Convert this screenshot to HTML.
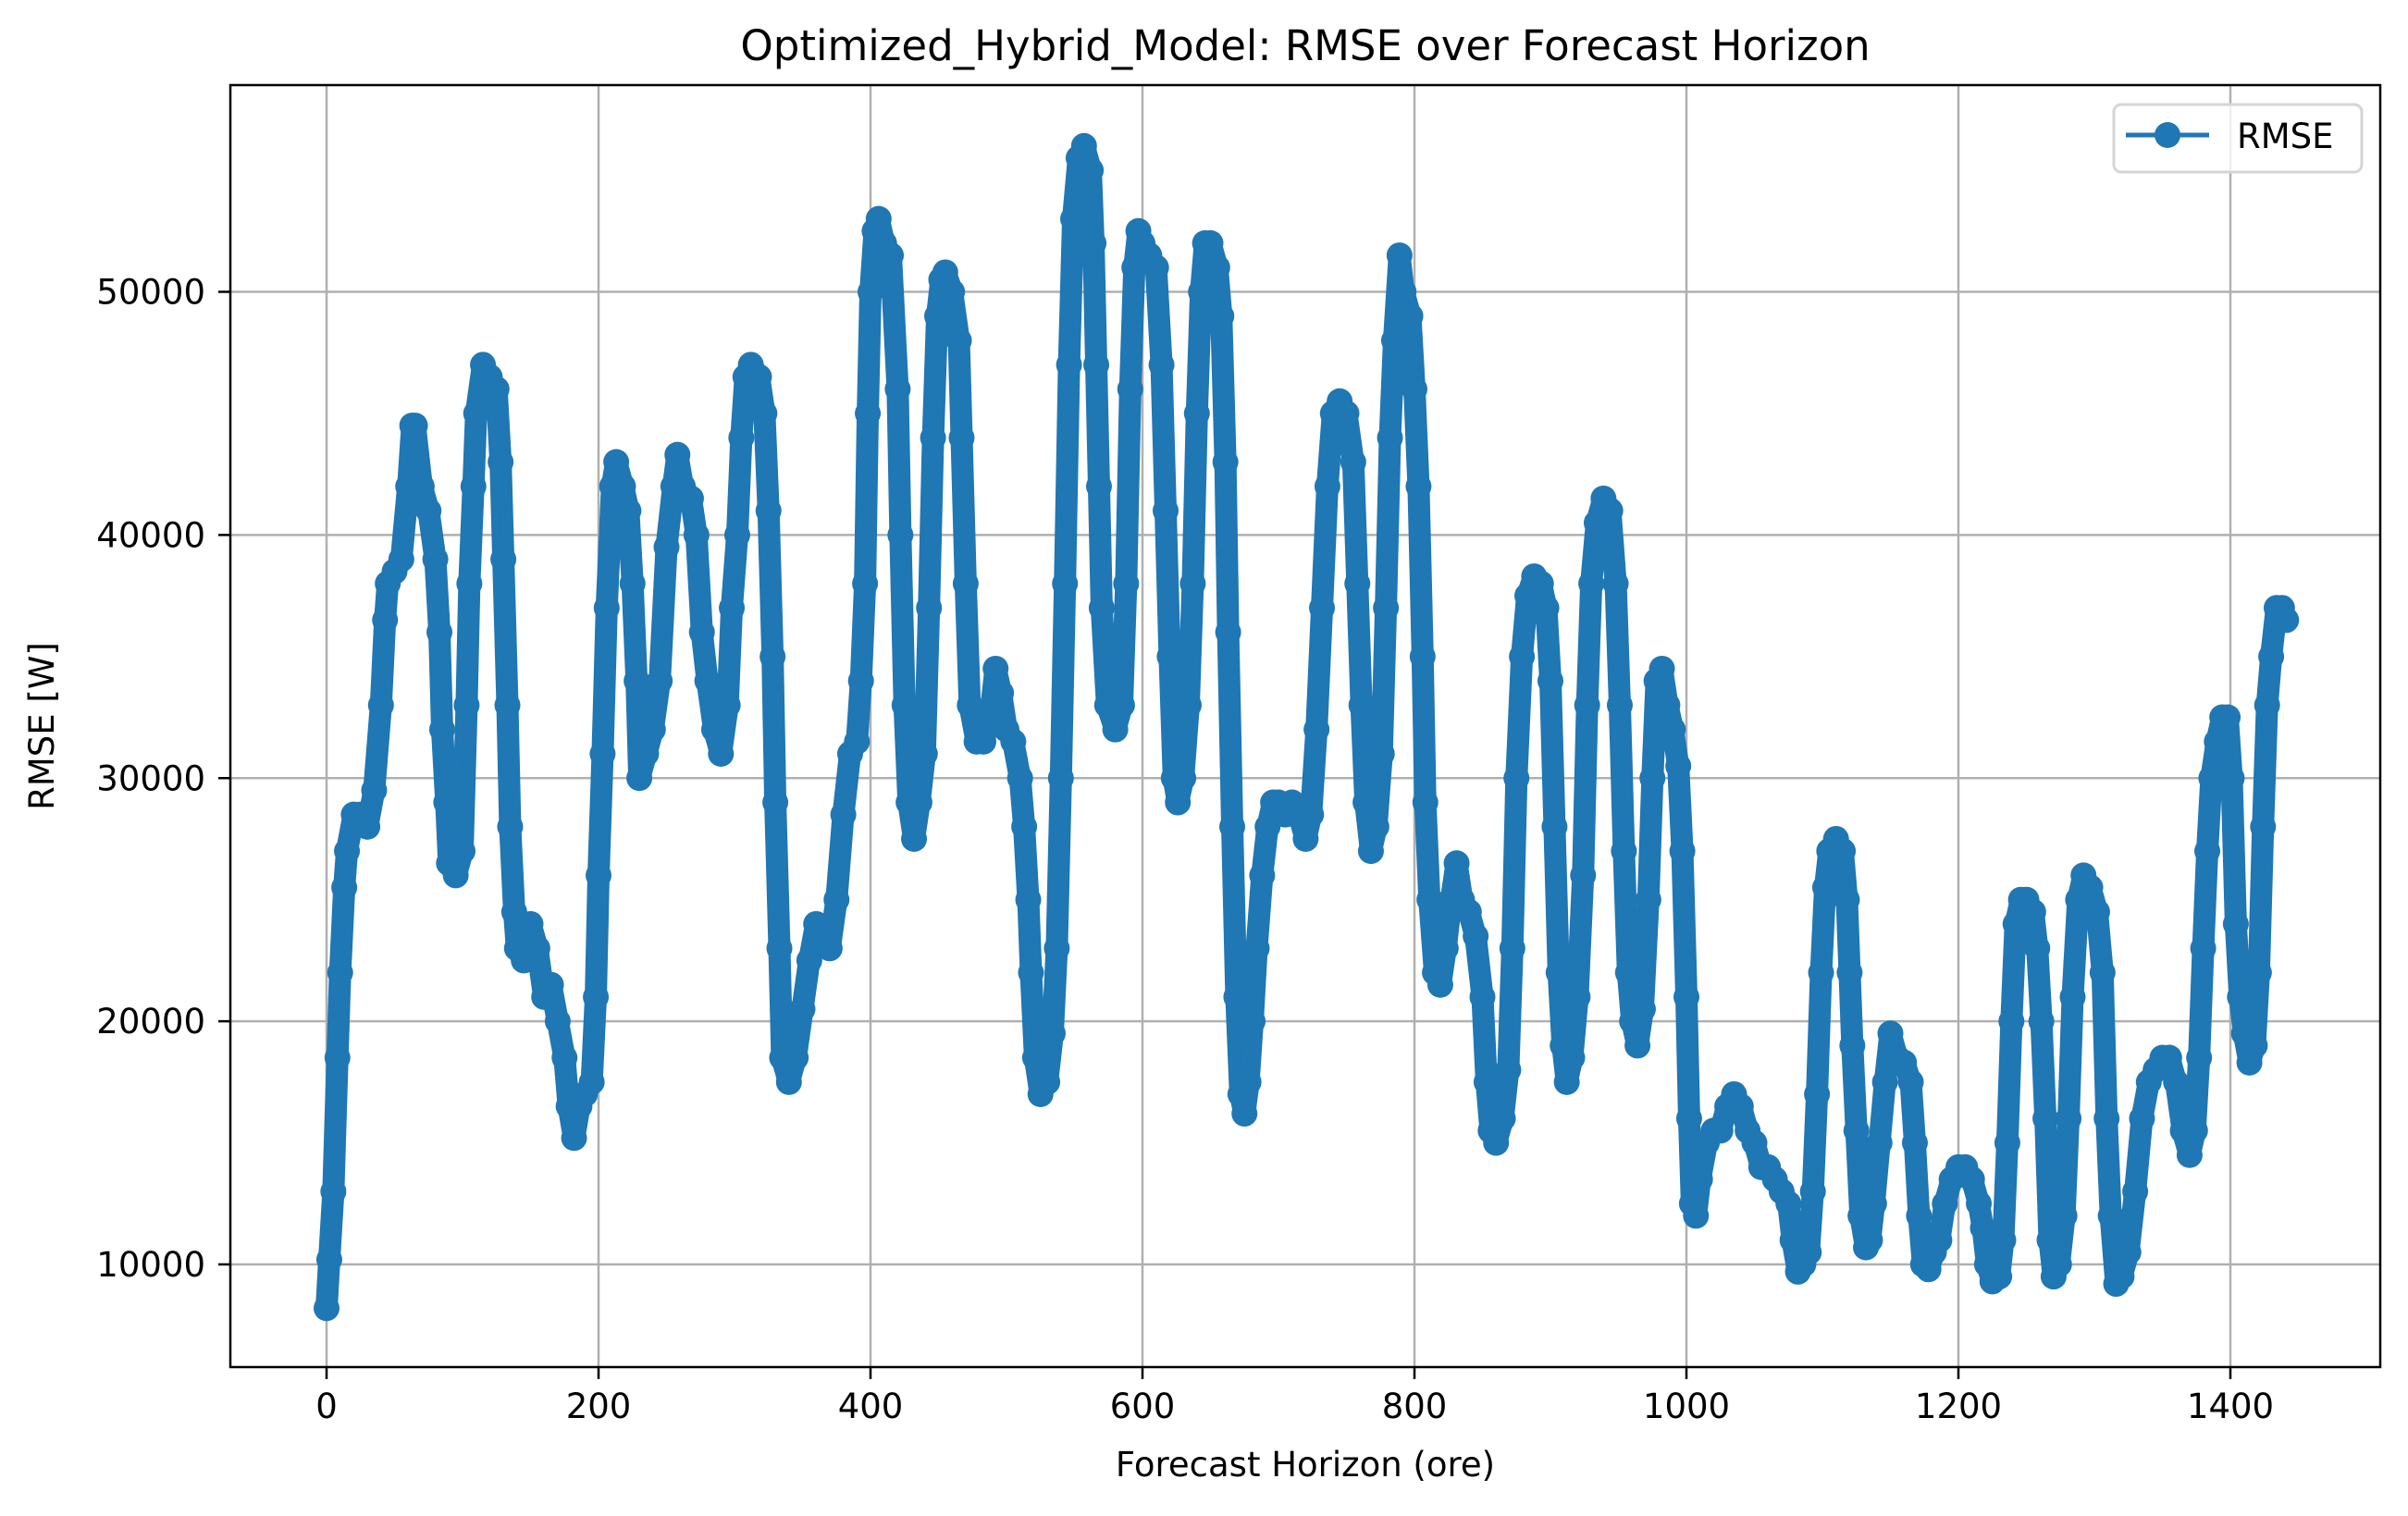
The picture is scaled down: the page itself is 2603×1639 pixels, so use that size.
<!DOCTYPE html>
<html><head><meta charset="utf-8"><style>
body{margin:0;background:#fff}
svg text{font-family:"DejaVu Sans","Liberation Sans",sans-serif;fill:#000}
</style></head><body>
<svg id="chart" width="2603" height="1634" xmlns="http://www.w3.org/2000/svg">
<rect width="2603" height="1634" fill="#fff"/>
<g id="grid"></g>
<g id="series"></g>
<rect x="249" y="92" width="2324" height="1386" fill="none" stroke="#000" stroke-width="2.5"/>
<g id="ticks"></g>
<text x="1411" y="65" font-size="45" text-anchor="middle">Optimized_Hybrid_Model: RMSE over Forecast Horizon</text>
<text x="1411" y="1596" font-size="37" text-anchor="middle">Forecast Horizon (ore)</text>
<text x="0" y="0" font-size="37" text-anchor="middle" transform="translate(58,785) rotate(-90)">RMSE [W]</text>
<g>
<rect x="2285" y="113" width="268" height="73" rx="8" fill="#fff" fill-opacity="0.8" stroke="#d5d5d5" stroke-width="3"/>
<line x1="2298" y1="146" x2="2388" y2="146" stroke="#1f77b4" stroke-width="5"/>
<circle cx="2343" cy="146" r="14" fill="#1f77b4"/>
<text x="2418" y="160" font-size="37">RMSE</text>
</g>
</svg>
<script>
const xs=[0,2,5,8,10,13,15,20,25,30,35,40,43,45,50,55,60,63,65,70,75,80,83,85,88,90,95,100,103,105,108,110,115,120,125,128,130,133,135,138,140,145,150,155,160,165,170,175,178,182,186,190,195,198,200,203,206,210,213,218,222,225,228,230,235,240,245,250,255,258,262,268,272,276,280,285,290,295,298,302,305,308,312,318,322,325,328,330,333,335,340,345,350,355,360,365,370,375,380,385,390,393,396,398,400,403,406,410,415,420,422,425,428,432,436,440,443,446,449,452,455,460,465,467,470,473,478,483,488,492,496,500,505,510,513,516,518,521,525,530,534,537,540,543,546,549,553,557,562,564,566,568,570,574,580,585,588,591,594,597,600,605,610,614,617,620,623,626,630,634,637,640,643,646,650,655,658,661,663,666,669,672,675,678,681,684,688,692,696,700,705,710,715,720,724,728,732,736,740,745,750,755,758,761,764,768,772,776,779,782,785,789,792,797,800,803,806,808,811,815,819,823,827,831,835,840,845,850,853,856,860,865,869,872,875,879,883,888,893,897,900,903,906,909,912,916,920,924,927,930,934,939,944,948,951,954,957,960,964,968,972,975,978,982,986,990,994,997,1000,1002,1004,1007,1010,1015,1020,1025,1030,1035,1040,1045,1050,1055,1060,1065,1070,1075,1078,1082,1086,1090,1093,1096,1099,1102,1105,1110,1115,1118,1120,1122,1125,1128,1132,1135,1138,1142,1146,1150,1155,1160,1165,1168,1171,1174,1178,1182,1186,1190,1195,1200,1205,1210,1215,1218,1221,1225,1230,1233,1236,1239,1242,1246,1250,1255,1258,1261,1264,1267,1270,1274,1278,1281,1284,1288,1292,1297,1302,1306,1309,1312,1316,1320,1325,1330,1335,1340,1345,1350,1355,1360,1365,1370,1374,1377,1380,1383,1386,1390,1394,1398,1401,1404,1407,1410,1414,1418,1421,1424,1427,1430,1434,1438,1441];
const rmseK=[8.2,10.2,13,18.5,22,25.5,27,28.5,28.5,28,29.5,33,36.5,38,38.5,39,42,44.5,44.5,42,41,39,36,32,29,26.5,26,27,33,38,42,45,47,46.5,46,43,39,33,28,24.5,23,22.5,24,23,21,21.5,20,18.5,16.5,15.2,16.5,17,17.5,21,26,31,37,42,43,42,41,38,34,30,31,32,34,39.5,42,43.3,42,41.5,40,36,34,32,31,33,37,40,44,46.5,47,46.5,45,41,35,29,23,18.5,17.5,18.5,20.5,22.5,24,23.5,23,25,28.5,31,31.5,34,38,45,50,52.5,53,52,51.5,46,40,33,29,27.5,29,31,37,44,49,50.5,50.8,50,48,44,38,33,31.5,31.5,32.5,34.5,33.5,32,31.5,30,28,25,22,18.5,17,17.5,19.5,23,30,38,47,53,55.5,56,55,52,47,42,37,33,32,33,38,46,51,52.5,52,51.5,51,47,41,35,30,29,30,33,38,45,50,52,52,51,49,43,36,28,21,17,16.2,17.5,20,23,26,28,29,29,28.5,29,28.5,27.5,28.5,32,37,42,45,45.5,45,43,38,33,29,27,28,31,37,44,48,51.5,50,49,46,42,35,29,25,22,21.5,23,25,26.5,25,24.5,23.5,21,17.5,15.5,15,16,18,23,30,35,37.5,38.3,38,37,34,28,22,19,17.5,18.5,21,26,33,38,40.5,41.5,41,38,33,27,22,20,19,20.5,25,30,34,34.5,33,32,30.5,27,21,16,12.5,12,13.5,15,15.5,15.5,16.5,17,16.5,15.5,15,14,14,13.5,13,12.5,11,9.7,10,10.5,13,17,22,25.5,27,27.5,27,25,22,19,15.5,12,10.7,11,12.5,15,17.5,19.5,18.5,18.3,17.5,15,12,10,9.8,10.5,11,12.5,13.5,14,14,13.5,12.5,11.5,10,9.3,9.5,11,15,20,24,25,25,24.5,23,20,16,11,9.5,10,12,16,21,25,26,25.5,24.5,22,16,12,9.2,9.5,10.5,13,16,17.5,18,18.5,18.5,17.5,15.5,14.5,15.5,18.5,23,27,30,31.5,32.5,32.5,30,24,21,19.5,18.3,19,22,28,33,35,37,37,36.5];
const xTicks=[0,200,400,600,800,1000,1200,1400];
const yTicks=[10000,20000,30000,40000,50000];
const NS="http://www.w3.org/2000/svg";
const X=v=>353+(v-0)*(2411-353)/1400;
const Y=v=>1367-(v-10000)*(1367-315.5)/40000;
function mk(tag,parent){const e=document.createElementNS(NS,tag);parent.appendChild(e);return e;}
const grid=document.getElementById('grid'),ticks=document.getElementById('ticks'),series=document.getElementById('series');
xTicks.forEach(t=>{
 const g=mk('line',grid);g.setAttribute('x1',X(t));g.setAttribute('x2',X(t));g.setAttribute('y1',92);g.setAttribute('y2',1478);g.setAttribute('stroke','#b0b0b0');g.setAttribute('stroke-width',2.5);
 
 
 const k=mk('line',ticks);k.setAttribute('x1',X(t));k.setAttribute('x2',X(t));k.setAttribute('y1',1478);k.setAttribute('y2',1491);k.setAttribute('stroke','#000');k.setAttribute('stroke-width',2.5);
 
 
 const l=mk('text',ticks);l.setAttribute('x',X(t));l.setAttribute('y',1533);l.setAttribute('font-size',37);l.setAttribute('text-anchor','middle');l.textContent=t;
 
 
});
yTicks.forEach(t=>{
 const g=mk('line',grid);g.setAttribute('x1',249);g.setAttribute('x2',2573);g.setAttribute('y1',Y(t));g.setAttribute('y2',Y(t));g.setAttribute('stroke','#b0b0b0');g.setAttribute('stroke-width',2.5);
 
 
 const k=mk('line',ticks);k.setAttribute('x1',236);k.setAttribute('x2',249);k.setAttribute('y1',Y(t));k.setAttribute('y2',Y(t));k.setAttribute('stroke','#000');k.setAttribute('stroke-width',2.5);
 
 
 const l=mk('text',ticks);l.setAttribute('x',222);l.setAttribute('y',Y(t)+13);l.setAttribute('font-size',37);l.setAttribute('text-anchor','end');l.textContent=t;
 
 
});
const pts=xs.map((x,i)=>X(x)+','+Y(rmseK[i]*1000)).join(' ');
const band=mk('polyline',series);
band.setAttribute('points',pts);
band.setAttribute('fill','none');band.setAttribute('stroke','#1f77b4');band.setAttribute('stroke-width',24);band.setAttribute('stroke-linejoin','round');band.setAttribute('stroke-linecap','round');


const pl=mk('polyline',series);
pl.setAttribute('points',pts);
pl.setAttribute('fill','none');pl.setAttribute('stroke','#1f77b4');pl.setAttribute('stroke-width',5);pl.setAttribute('stroke-linejoin','round');


xs.forEach((x,i)=>{
 const c=mk('circle',series);c.setAttribute('cx',X(x));c.setAttribute('cy',Y(rmseK[i]*1000));c.setAttribute('r',14);c.setAttribute('fill','#1f77b4');
 
 
});
</script>
</body></html>
